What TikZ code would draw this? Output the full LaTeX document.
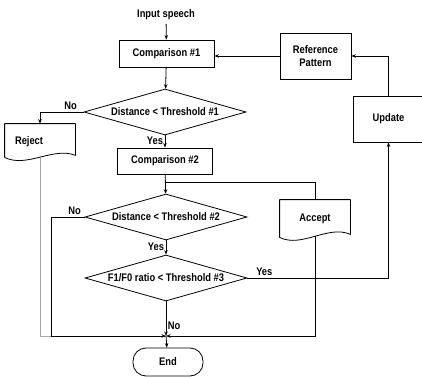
\documentclass[tikz,border=0pt]{standalone}
\usepackage{fontspec}
\setmainfont[FakeStretch=0.85]{Liberation Sans}
\usetikzlibrary{arrows.meta,shapes.geometric,calc}
\begin{document}
\begin{tikzpicture}[x=1pt,y=-1pt, line width=0.8pt,
  every node/.style={font=\bfseries\fontsize{11}{12.5}\selectfont},
  box/.style={draw, rectangle, inner sep=0pt},
  dia/.style={draw, diamond, inner sep=0pt, minimum width=162pt, minimum height=46pt},
  arr/.style={-{Stealth[length=4.5pt,width=3.5pt]}},
  lbl/.style={inner sep=1.5pt},
  doc/.style={draw, line join=round}]
\useasboundingbox (0,0) rectangle (422,377);

% nodes
\node (inp) at (166,15) {Input speech};
\node[box, minimum width=95pt, minimum height=27pt] (c1) at (166.5,53.5) {Comparison \#1};
\node[box, minimum width=71pt, minimum height=46pt, align=center] (ref) at (315.5,56) {Reference\\Pattern};
\node[box, minimum width=71pt, minimum height=46pt] (upd) at (388.5,119) {Update};
\node[dia] (d1) at (165,112) {\makebox[0pt]{Distance < Threshold \#1}};
\node[minimum width=70pt, minimum height=36pt, inner xsep=10pt, text width=50pt, align=left] (rej) at (40,142) {Reject};
\node[box, minimum width=95pt, minimum height=26pt] (c2) at (165,161) {Comparison \#2};
\node[dia] (d2) at (166,217) {\makebox[0pt]{Distance < Threshold \#2}};
\node[dia] (d3) at (166,278) {\makebox[0pt]{F1/F0 ratio < Threshold \#3}};
\node[minimum width=70pt, minimum height=40pt] (acc) at (315,220) {\raisebox{5pt}{Accept}};
\node[draw, rectangle, rounded corners=13pt, minimum width=70pt, minimum height=28pt] (end) at (168,362) {End};

\coordinate (br) at (166,182);
\coordinate (j) at (166,336);

% document shapes
\draw[doc] (rej.north west) -- (rej.north east) -- ([yshift=5pt]rej.south east)
  .. controls ([xshift=-22pt,yshift=14pt]rej.south east) and ([xshift=22pt,yshift=-8pt]rej.south west)
  .. ([yshift=3pt]rej.south west) -- cycle;
\draw[doc] (acc.north west) -- (acc.north east) -- ([yshift=6pt]acc.south east)
  .. controls ([xshift=-22pt,yshift=16pt]acc.south east) and ([xshift=22pt,yshift=-8pt]acc.south west)
  .. ([yshift=3pt]acc.south west) -- cycle;

% connectors
\draw[arr] (inp) -- (c1);
\draw[arr] (c1) -- (d1);
\draw[arr] (d1) -- node[lbl, left, pos=0.45]{Yes} (c2);
\draw[arr] (c2) -- (d2);
\draw (br) -| (acc.north);
\draw[arr] (d2) -- node[lbl, left, pos=0.45]{Yes} (d3);
\draw[arr] (d1.west) -| node[lbl, pos=0.15, above]{No} (rej.north);
\draw[gray!70] ([yshift=2pt]rej.south) |- (j);
\draw[arr] (d2.west) -- node[lbl, above, pos=0.3]{No} ++(-33,0) |- (j);
\draw[arr] ([yshift=4pt]acc.south) |- (j);
\draw[arr] (d3) -- node[lbl, right, pos=0.7]{No} (j);
\draw[arr] (j) -- (end);
\draw[arr] (d3.east) -| node[lbl, pos=0.06, above]{Yes} (upd.south);
\draw[arr] (upd.north) |- (ref.east);
\draw[arr] (ref.west) -- (ref.west -| c1.east);
\end{tikzpicture}
\end{document}
